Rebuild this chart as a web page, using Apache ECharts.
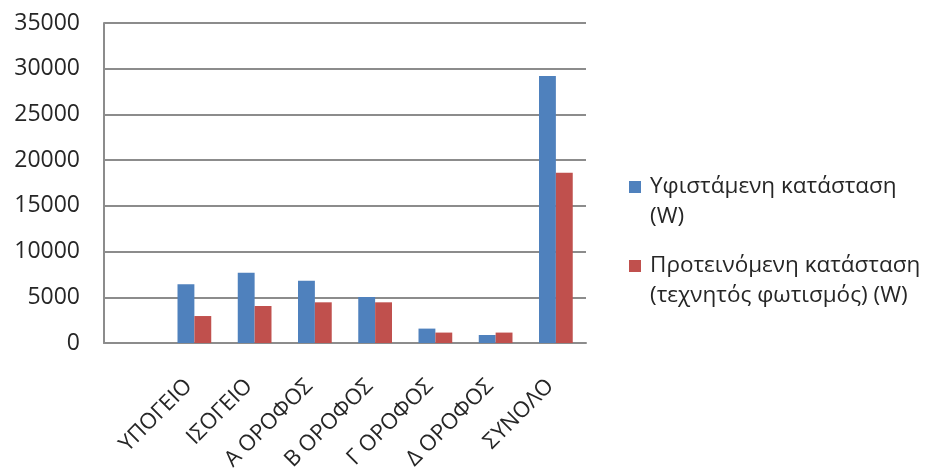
<!DOCTYPE html>
<html><head><meta charset="utf-8">
<script src="https://cdn.jsdelivr.net/npm/echarts@6/dist/echarts.min.js"></script>
<style>html,body{margin:0;padding:0;background:#fff}#c{width:927px;height:468px}</style>
</head><body><div id="c"></div>
<script>
const categories = ['', 'ΥΠΟΓΕΙΟ', 'ΙΣΟΓΕΙΟ', 'Α ΟΡΟΦΟΣ', 'Β ΟΡΟΦΟΣ', 'Γ ΟΡΟΦΟΣ', 'Δ ΟΡΟΦΟΣ', 'ΣΥΝΟΛΟ'];
const existing = [null, 6420, 7690, 6815, 5030, 1575, 875, 29200];
const proposed = [null, 2950, 4050, 4450, 4450, 1140, 1140, 18630];
const seriesNames = ['Υφιστάμενη κατάσταση\n(W)', 'Προτεινόμενη κατάσταση\n(τεχνητός φωτισμός) (W)'];
const yTicks = { min: 0, max: 35000, interval: 5000 };

const chart = echarts.init(document.getElementById('c'));
const font = 'Open Sans';
const legendText = { fontFamily: font, fontSize: 22.5, color: '#262626', lineHeight: 30, padding: [0, 0, 0, 4] };
function mkLegend(name, top) {
  return {
    orient: 'vertical', left: 624, top: top,
    itemWidth: 12, itemHeight: 12, icon: 'rect',
    formatter: n => '\n' + n,
    textStyle: legendText,
    data: [name]
  };
}
chart.setOption({
  animation: false,
  grid: { left: 104, right: 341, top: 23, bottom: 125, containLabel: false, outerBoundsMode: 'none' },
  legend: [mkLegend(seriesNames[0], 137), mkLegend(seriesNames[1], 216)],
  xAxis: {
    type: 'category', data: categories,
    axisLine: { lineStyle: { color: '#8c8c8c', width: 2 } },
    axisTick: { show: false },
    axisLabel: { interval: 0, rotate: 45, margin: 34, padding: [0, 8, 0, 0], fontFamily: font, fontSize: 22, color: '#262626' }
  },
  yAxis: {
    type: 'value', min: yTicks.min, max: yTicks.max, interval: yTicks.interval,
    axisLine: { show: true, lineStyle: { color: '#8c8c8c', width: 2 } },
    axisTick: { show: false },
    splitLine: { lineStyle: { color: '#8c8c8c', width: 2 } },
    axisLabel: { margin: 24, fontFamily: font, fontSize: 23, color: '#262626', formatter: v => String(v) }
  },
  series: [
    { name: seriesNames[0], type: 'bar', data: existing, itemStyle: { color: '#4F81BD' }, barGap: '0%', barCategoryGap: '44%' },
    { name: seriesNames[1], type: 'bar', data: proposed, itemStyle: { color: '#C0504D' } }
  ]
});
</script></body></html>
